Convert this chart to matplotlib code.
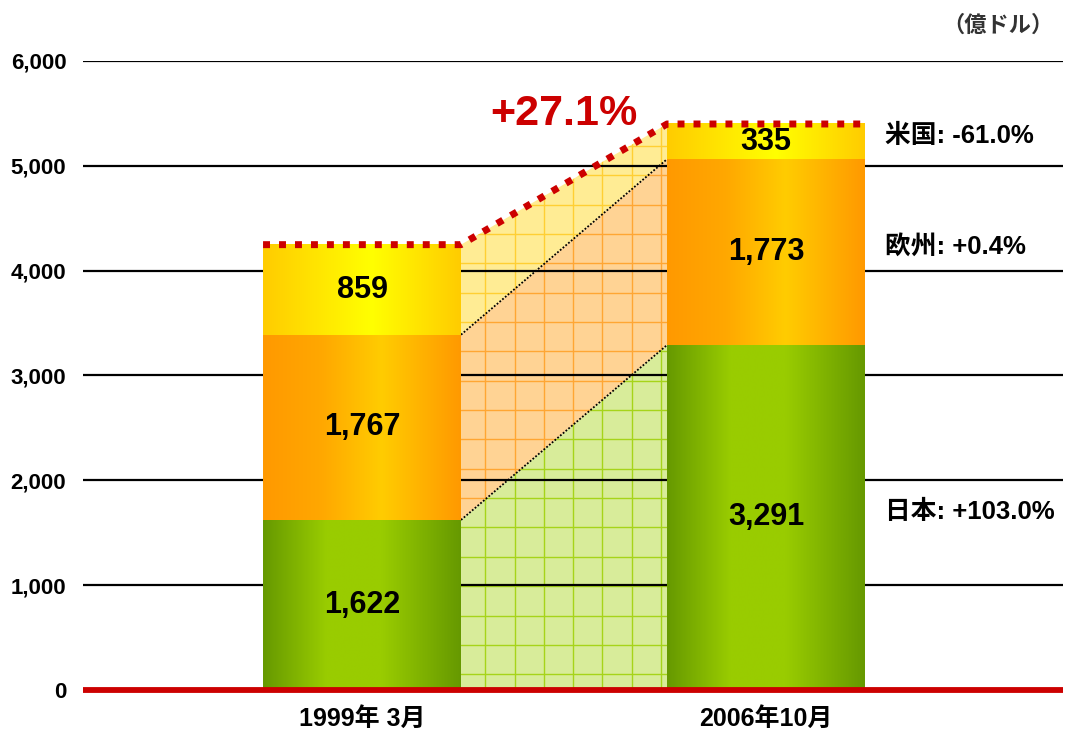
import matplotlib
matplotlib.use("Agg")
import matplotlib.pyplot as plt
import numpy as np
from matplotlib.colors import to_rgb
from matplotlib.patches import Polygon

# ---------------- data ----------------
periods = ["1999年 3月", "2006年10月"]
japan = [1622, 3291]
europe = [1767, 1773]
usa = [859, 335]
region_labels = ["日本: +103.0%", "欧州: +0.4%", "米国: -61.0%"]
total_change_label = "+27.1%"
unit_label = "（億ドル）"
yticks = [0, 1000, 2000, 3000, 4000, 5000, 6000]

# ---------------- styling ----------------
LAT = ["Liberation Sans", "Noto Sans CJK JP"]
RED = "#cc0000"
bar_w = 0.49
x = np.arange(len(periods))

gradients = {
    "green": [(0.0, "#669900"), (0.32, "#99cc00"), (0.6, "#99cc00"), (1.0, "#669900")],
    "orange": [(0.0, "#ff9900"), (0.3, "#ffa800"), (0.6, "#ffcc00"), (1.0, "#ff9900")],
    "yellow": [(0.0, "#ffcc00"), (0.55, "#ffff00"), (1.0, "#ffcc00")],
}
conn_fill = {"green": "#d8ec9a", "orange": "#ffd394", "yellow": "#ffec94"}
conn_grid = {"green": "#a6d41a", "orange": "#ffa633", "yellow": "#ffcf33"}


def grad_img(stops, n=256):
    pos = np.array([s[0] for s in stops])
    cols = np.array([to_rgb(s[1]) for s in stops])
    t = np.linspace(0, 1, n)
    img = np.stack([np.interp(t, pos, cols[:, c]) for c in range(3)], axis=-1)
    return img[np.newaxis, :, :]


fig = plt.figure(figsize=(10.67, 7.33), dpi=100)
ax = fig.add_axes([0.0778, 0.0587, 0.9185, 0.8581])

xlim = (-0.6906, 1.735)
ylim = (0, 6000)

# stacked segments
segments = [("green", japan), ("orange", europe), ("yellow", usa)]
bottoms = np.zeros(len(x))
seg_bounds = []  # (name, bottom, top)
for name, vals in segments:
    vals = np.array(vals, dtype=float)
    tops = bottoms + vals
    seg_bounds.append((name, bottoms.copy(), tops.copy()))
    for i in range(len(x)):
        ax.imshow(grad_img(gradients[name]),
                  extent=[x[i] - bar_w / 2, x[i] + bar_w / 2, bottoms[i], tops[i]],
                  aspect="auto", interpolation="bilinear", zorder=3)
        ax.text(x[i], (bottoms[i] + tops[i]) / 2, f"{int(vals[i]):,}",
                ha="center", va="center", fontsize=22, fontweight="bold",
                family=LAT, color="black", zorder=6)
    bottoms = tops

totals = bottoms

# connector areas
xl = x[0] + bar_w / 2
xr = x[1] - bar_w / 2
xs_grid = np.arange(xl + 0.06, xr, 0.0725)
ys_grid = np.arange(150, 6000, 280)
for name, b, t in seg_bounds:
    poly = Polygon([(xl, b[0]), (xl, t[0]), (xr, t[1]), (xr, b[1])],
                   closed=True, facecolor=conn_fill[name], edgecolor="none", zorder=1)
    ax.add_patch(poly)
    for xv in xs_grid:
        ln, = ax.plot([xv, xv], [0, 6000], color=conn_grid[name], lw=1.0, zorder=1.2)
        ln.set_clip_path(poly)
    for yv in ys_grid:
        ln, = ax.plot([xl, xr], [yv, yv], color=conn_grid[name], lw=1.0, zorder=1.2)
        ln.set_clip_path(poly)
    if name != "yellow":
        ax.plot([xl, xr], [t[0], t[1]], color="black", lw=1.3,
                linestyle=(0, (1, 1)), zorder=2.5)

# grid lines
for yv in yticks[1:]:
    ax.axhline(yv, color="black", lw=1.6, zorder=2, solid_capstyle="butt")
ax.axhline(0, color=RED, lw=4.2, zorder=5, clip_on=False, solid_capstyle="butt")

# dotted red total line
ax.plot([x[0] - bar_w / 2, xl, xr, x[1] + bar_w / 2],
        [totals[0], totals[0], totals[1], totals[1]],
        color=RED, lw=5, linestyle=(0, (1, 1.3)), dash_capstyle="butt", zorder=7)

ax.text((x[0] + x[1]) / 2, totals[1] + 100, total_change_label, ha="center", va="center",
        fontsize=31, fontweight="bold", family=LAT, color=RED, zorder=8)

# region labels at right
for (name, b, t), lab in zip(seg_bounds, region_labels):
    ax.text(x[1] + 0.295, (b[1] + t[1]) / 2 + 50, lab, ha="left", va="center",
            fontsize=18.5, fontweight="bold", family=LAT, color="black", zorder=8)

fig.text(0.935, 0.966, unit_label, ha="center", va="center", fontsize=16,
         fontweight="bold", family=["Noto Sans CJK JP"], color="#333333")

# axes
ax.set_xlim(*xlim)
ax.set_ylim(*ylim)
ax.set_yticks(yticks)
ax.set_yticklabels([f"{v:,}" for v in yticks], fontsize=16, fontweight="bold", family=LAT)
ax.set_xticks(x)
ax.set_xticklabels(periods, fontsize=18, fontweight="bold", family=LAT)
ax.tick_params(axis="y", length=0, pad=12)
ax.tick_params(axis="x", length=0, pad=12)
for sp in ax.spines.values():
    sp.set_visible(False)
ax.set_facecolor("none")

fig.savefig("out.png", dpi=100)
